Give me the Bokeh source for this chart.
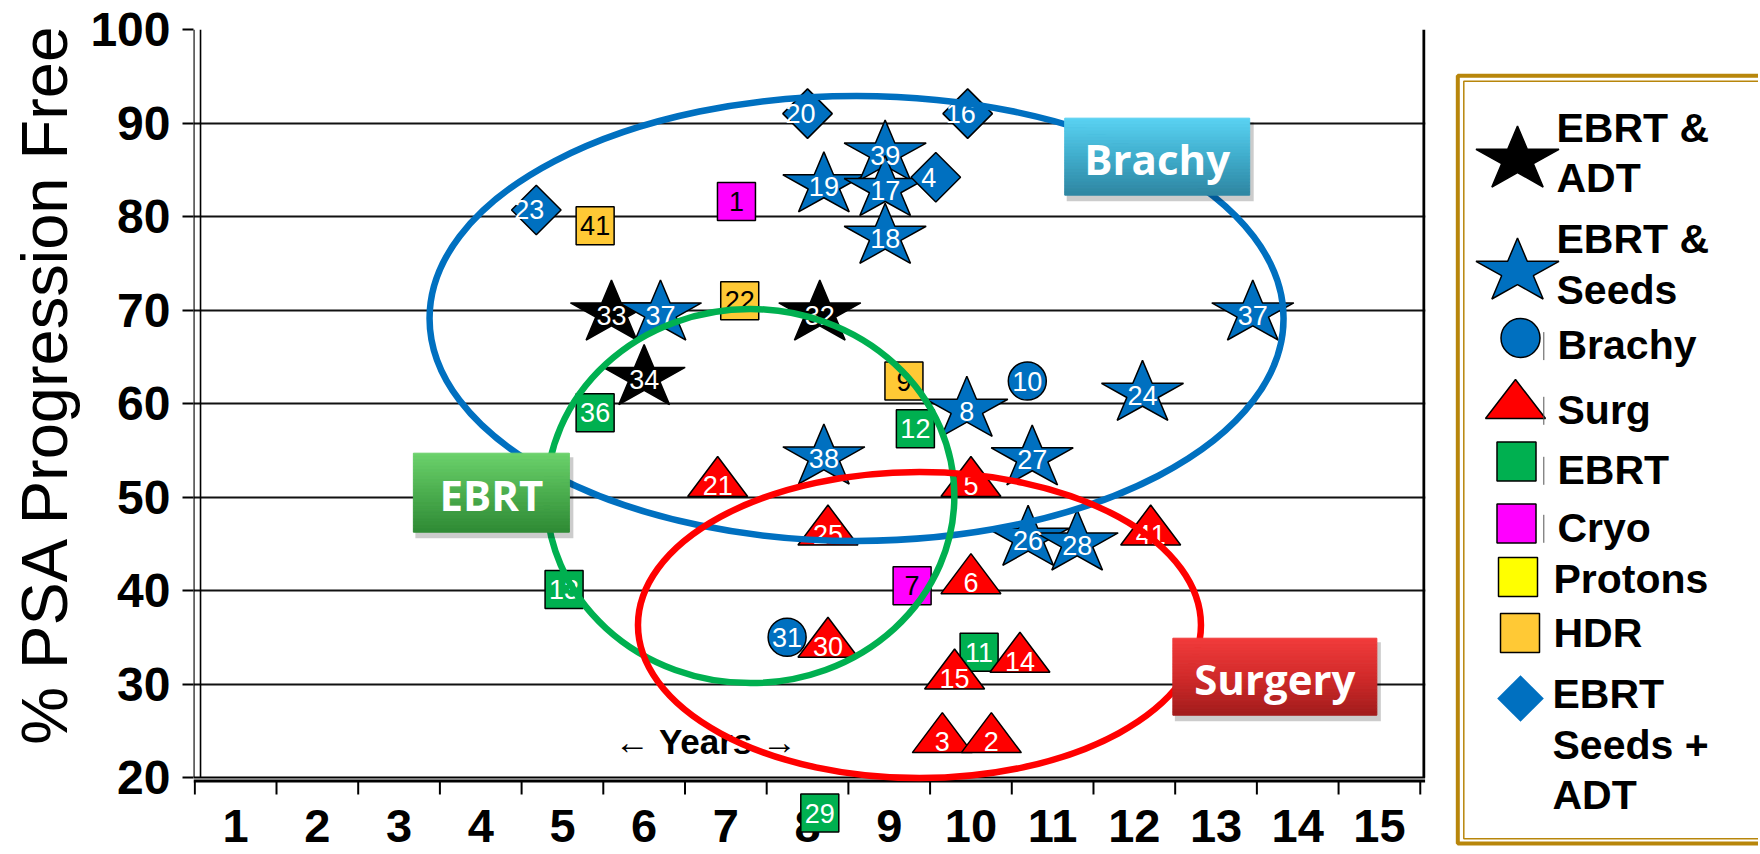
import math

from bokeh.core.properties import value
from bokeh.embed import file_html
from bokeh.layouts import row
from bokeh.models import FixedTicker, Range1d
from bokeh.plotting import figure
from bokeh.resources import INLINE

# follow-up (years), % PSA progression free, study number
ebrt_adt_x = [5.6, 8.15, 6.0]
ebrt_adt_y = [70, 70, 63.1]
ebrt_adt_id = ["33", "32", "34"]

ebrt_seeds_x = [6.2, 13.45, 8.2, 8.95, 8.95, 8.95, 9.95, 12.1, 8.2, 10.75, 10.7, 11.3]
ebrt_seeds_y = [70, 70, 83.7, 87.1, 83.3, 78.2, 59.7, 61.4, 54.6, 54.5, 45.9, 45.4]
ebrt_seeds_id = ["37", "37", "19", "39", "17", "18", "8", "24", "38", "27", "26", "28"]

brachy_x = [10.69, 7.75]
brachy_y = [62.4, 35.0]
brachy_id = ["10", "31"]

surg_x = [6.9, 10.0, 8.25, 10.0, 8.25, 10.6, 9.8, 9.65, 10.25, 12.2]
surg_y = [52.2, 52.2, 47.0, 41.8, 35.0, 33.4, 31.6, 24.8, 24.8, 47.0]
surg_id = ["21", "5", "25", "6", "30", "14", "15", "3", "2", "41"]

ebrt_x = [5.4, 9.32, 5.02, 10.1, 8.15]
ebrt_y = [59.0, 57.3, 40.1, 33.4, 16.2]
ebrt_id = ["36", "12", "13", "11", "29"]

cryo_x = [7.13, 9.28]
cryo_y = [81.6, 40.5]
cryo_id = ["1", "7"]

protons_x = []
protons_y = []
protons_id = []

hdr_x = [5.4, 7.17, 9.18]
hdr_y = [79.0, 71.0, 62.4]
hdr_id = ["41", "22", "9"]

seeds_adt_x = [8.0, 9.96, 9.57, 4.68]
seeds_adt_y = [91.0, 91.0, 84.2, 80.7]
seeds_adt_id = ["20", "16", "4", "23"]

x_ticks = [1, 2, 3, 4, 5, 6, 7, 8, 9, 10, 11, 12, 13, 14, 15]
y_ticks = [20, 30, 40, 50, 60, 70, 80, 90, 100]

legend_labels = [["EBRT &", "ADT"], ["EBRT &", "Seeds"], ["Brachy"], ["Surg"], ["EBRT"],
                 ["Cryo"], ["Protons"], ["HDR"], ["EBRT", "Seeds +", "ADT"]]

callout_names = ["Brachy", "EBRT", "Surgery"]
y_title = "% PSA Progression Free"
x_note = "\u2190 Years \u2192"

# colours
BLUE = "#0070C0"
GREEN = "#00B050"
RED = "#FF0000"
MAGENTA = "#FF00FF"
YELLOW = "#FFFF00"
HDR_COL = "#FFC935"
GOLD = "#B8860B"
FONT = "Liberation Sans"

# page layout: title strip | plot | legend, all share the frame top
H = 852
TOP = 29
W_TITLE, W_MAIN, W_LEG = 80, 1368, 310
B_LEFT, B_RIGHT = 113, 23
X0, X1 = 0.484, 15.564
Y1 = 100
Y0 = Y1 - (H - TOP) / 9.35
SX = (W_MAIN - B_LEFT - B_RIGHT) / (X1 - X0)
SY = (H - TOP) / (Y1 - Y0)


def py(page_y):
    # page pixel row -> value on the y axis of the main plot
    return Y1 - (page_y - TOP) / SY


def star_xy(cx, cy, w, h, kx, ky):
    xs, ys = [], []
    for k in range(10):
        a = math.pi / 2 - k * math.pi / 5
        r = 1.0 if k % 2 == 0 else 0.382
        xs.append(cx + r * math.cos(a) * (w / 1.902) * kx)
        ys.append(cy + (r * math.sin(a) - 0.0955) * (h / 1.809) * ky)
    return xs, ys


def tri_xy(cx, cy, w, h, kx, ky):
    return ([cx, cx + w / 2 * kx, cx - w / 2 * kx],
            [cy + h / 2 * ky, cy - h / 2 * ky, cy - h / 2 * ky])


def mix(stops, t):
    for (t0, c0), (t1, c1) in zip(stops[:-1], stops[1:]):
        if t <= t1:
            f = (t - t0) / (t1 - t0)
            a = [int(c0[i:i + 2], 16) for i in (1, 3, 5)]
            b = [int(c1[i:i + 2], 16) for i in (1, 3, 5)]
            return "#%02x%02x%02x" % tuple(round(u + (v - u) * f) for u, v in zip(a, b))
    return stops[-1][1]


def side_fig(width, x_start):
    f = figure(width=width, height=H, x_range=Range1d(x_start, x_start + width),
               y_range=Range1d(H, TOP), x_axis_type=None, y_axis_type=None, title=None,
               output_backend="svg", toolbar_location=None, min_border=0,
               min_border_top=TOP)
    f.outline_line_color = None
    return f


# y axis title strip
tf = side_fig(W_TITLE, 0)
tf.text(x=[44], y=[383], text=[y_title], angle=math.pi / 2, text_align="center",
        text_baseline="middle", text_color="black", text_font=value(FONT),
        text_font_size="65px")

p = figure(width=W_MAIN, height=H, x_range=Range1d(X0, X1), y_range=Range1d(Y0, Y1),
           x_axis_type=None, title=None, output_backend="svg", toolbar_location=None,
           min_border_left=B_LEFT, min_border_right=B_RIGHT, min_border_top=TOP,
           min_border_bottom=0)
p.outline_line_color = None
p.background_fill_color = "white"
p.border_fill_color = "white"

p.yaxis.ticker = FixedTicker(ticks=y_ticks)
p.yaxis.axis_line_color = None
p.yaxis.minor_tick_line_color = None
p.yaxis.major_tick_out = 11
p.yaxis.major_tick_in = 0
p.yaxis.major_tick_line_width = 2
p.yaxis.major_label_standoff = 12
p.yaxis.major_label_text_font = FONT
p.yaxis.major_label_text_font_style = "bold"
p.yaxis.major_label_text_font_size = "48px"
p.yaxis.major_label_text_color = "black"
p.ygrid.ticker = FixedTicker(ticks=y_ticks[1:])
p.ygrid.grid_line_color = "#111111"
p.ygrid.grid_line_width = 2

# axis lines drawn by hand so the frame can hold the point below 20
p.segment(x0=[X0 + 0.004, 0.57], y0=[20, 20], x1=[X0 + 0.004, 0.57], y1=[100, 100],
          line_color="black", line_width=1.6)
p.segment(x0=[15.545], y0=[20], x1=[15.545], y1=[100], line_color="black", line_width=3)
p.segment(x0=[X0, X0], y0=[20, 20 - 3.5 / SY], x1=[15.56, 15.56], y1=[20, 20 - 3.5 / SY],
          line_color="black", line_width=[2, 3])
half_ticks = [t - 0.5 for t in x_ticks] + [x_ticks[-1] + 0.5]
p.segment(x0=half_ticks, y0=[20 - 4 / SY] * len(half_ticks), x1=half_ticks,
          y1=[20 - 17 / SY] * len(half_ticks), line_color="black", line_width=2)
p.text(x=x_ticks, y=[py(825.5)] * len(x_ticks), text=[str(t) for t in x_ticks],
       text_align="center", text_baseline="middle", text_color="black",
       text_font=value(FONT), text_font_style="bold", text_font_size="47px")

# markers
MK = dict(line_color="black", line_width=1.5)
p.scatter(ebrt_x, ebrt_y, marker="square", size=38, fill_color=GREEN, **MK)
p.scatter(cryo_x, cryo_y, marker="square", size=38, fill_color=MAGENTA, **MK)
p.scatter(hdr_x, hdr_y, marker="square", size=38, fill_color=HDR_COL, **MK)
p.scatter(brachy_x, brachy_y, marker="circle", size=38, fill_color=BLUE, **MK)

tris = [tri_xy(x, y, 60, 40, 1 / SX, 1 / SY) for x, y in zip(surg_x, surg_y)]
p.patches([t[0] for t in tris], [t[1] for t in tris], fill_color=RED, **MK)

stars = [star_xy(x, y, 82, 60, 1 / SX, 1 / SY) for x, y in zip(ebrt_adt_x, ebrt_adt_y)]
p.patches([s[0] for s in stars], [s[1] for s in stars], fill_color="black", **MK)
for x, y in zip(ebrt_seeds_x, ebrt_seeds_y):
    sx_, sy_ = star_xy(x, y, 82, 60, 1 / SX, 1 / SY)
    p.patch(sx_, sy_, fill_color=BLUE, **MK)

p.scatter(seeds_adt_x, seeds_adt_y, marker="square", size=35, angle=math.pi / 4,
          fill_color=BLUE, **MK)


def numbers(xs, ys, ids, color, dx=0, dy=0):
    p.text(x=[x + dx / SX for x in xs], y=[y - dy / SY for y in ys], text=ids,
           text_align="center", text_baseline="middle", text_color=color,
           text_font=value(FONT), text_font_size="27px")


numbers(ebrt_x, ebrt_y, ebrt_id, "white")
numbers(cryo_x, cryo_y, cryo_id, "black")
numbers(hdr_x, hdr_y, hdr_id, "black")
numbers(brachy_x, brachy_y, brachy_id, "white")
numbers(surg_x, surg_y, surg_id, "white", dy=9)
numbers(ebrt_adt_x, ebrt_adt_y, ebrt_adt_id, "white", dy=5)
numbers(ebrt_seeds_x, ebrt_seeds_y, ebrt_seeds_id, "white", dy=5)
numbers(seeds_adt_x, seeds_adt_y, seeds_adt_id, "white", dx=-7)

p.text(x=[6.76], y=[py(740.5)], text=[x_note], text_align="center",
       text_baseline="middle", text_color="black", text_font=value(FONT),
       text_font_style="bold", text_font_size="35px")

# grouping ellipses
for cx, cy, w, h, col in [(8.6, 69.1, 854, 445, BLUE), (7.3, 50.1, 408, 374, GREEN),
                          (9.37, 36.3, 563, 306, RED)]:
    p.ellipse(x=[cx], y=[cy], width=w, height=h, width_units="screen",
              height_units="screen", fill_color=None, line_color=col, line_width=6.5)

# callout boxes
callout_style = [
    (12.28, 86.4, 185, 77, [(0, "#5AD3F3"), (0.5, "#40ADCC"), (1, "#2F86A2")]),
    (4.13, 50.46, 156, 79, [(0, "#6CD26C"), (0.5, "#4CAF4F"), (1, "#2F8A35")]),
    (13.72, 30.78, 204, 77, [(0, "#F23C3C"), (0.5, "#D22B2B"), (1, "#A21C1C")]),
]
for name, (cx, cy, w, h, stops) in zip(callout_names, callout_style):
    hw, hh = w / 2 / SX, h / 2 / SY
    p.quad(left=[cx - hw + 2 / SX], right=[cx + hw + 4 / SX], top=[cy + hh - 4 / SY],
           bottom=[cy - hh - 6 / SY], fill_color="black", fill_alpha=0.2, line_color=None)
    n = 24
    tops = [cy + hh - i * 2 * hh / n for i in range(n)]
    cols = [mix(stops, (i + 0.5) / n) for i in range(n)]
    p.quad(left=[cx - hw] * n, right=[cx + hw] * n, top=tops,
           bottom=[t - 2 * hh / n for t in tops], fill_color=cols, line_color=cols,
           line_width=1)
    p.text(x=[cx], y=[cy - 1.5 / SY], text=[name], text_align="center",
           text_baseline="middle", text_color="white", text_font=value("Open Sans"),
           text_font_style="bold", text_font_size="42px")

# legend, drawn in page pixels
x_leg = W_TITLE + W_MAIN
lg = side_fig(W_LEG, x_leg)
lg.quad(left=[1457.3], right=[1790], top=[75.3], bottom=[843], fill_color="white",
        line_color=GOLD, line_width=4)
lg.quad(left=[1463.3], right=[1790], top=[80.7], bottom=[838.3], fill_color=None,
        line_color=GOLD, line_width=1.5)

row_y = [156, 268, 337.5, 398.5, 461, 523, 576.5, 632.5, 698]
row_mx = [1517, 1517, 1520, 1515, 1516, 1516, 1517.5, 1519.5, 1520]
text_x = [1556, 1556, 1557, 1557, 1557, 1557, 1553, 1553, 1552]
text_mid = [127, 238.6, 344.6, 409.3, 469.3, 527.3, 578.6, 632, 693.6]

s1 = star_xy(row_mx[0], row_y[0], 83, 61, 1, -1)
s2 = star_xy(row_mx[1], row_y[1], 83, 61, 1, -1)
lg.patch(s1[0], s1[1], fill_color="black", line_color="black", line_width=1.5)
lg.patch(s2[0], s2[1], fill_color=BLUE, line_color="black", line_width=1.5)
lg.scatter([row_mx[2]], [row_y[2]], marker="circle", size=39, fill_color=BLUE, **MK)
t1 = tri_xy(row_mx[3], row_y[3], 60, 39, 1, -1)
lg.patch(t1[0], t1[1], fill_color=RED, line_color="black", line_width=1.5)
lg.scatter(row_mx[4:8], row_y[4:8], marker="square", size=39,
           fill_color=[GREEN, MAGENTA, YELLOW, HDR_COL], **MK)
lg.scatter([row_mx[8]], [row_y[8]], marker="square", size=33, angle=math.pi / 4,
           fill_color=BLUE, line_color=None)
lg.segment(x0=[1543.3] * 4, y0=[m - 13 for m in text_mid[2:6]], x1=[1543.3] * 4,
           y1=[m + 15 for m in text_mid[2:6]], line_color="#555555", line_width=1)

lx, ly, lt = [], [], []
for i, lines in enumerate(legend_labels):
    for j, line in enumerate(lines):
        lx.append(text_x[i])
        ly.append(text_mid[i] + j * 50.5)
        lt.append(line)
lg.text(x=lx, y=ly, text=lt, text_align="left", text_baseline="middle",
        text_color="black", text_font=value(FONT), text_font_style="bold",
        text_font_size="41px")

open("out.html", "w").write(file_html(row(tf, p, lg), INLINE))
